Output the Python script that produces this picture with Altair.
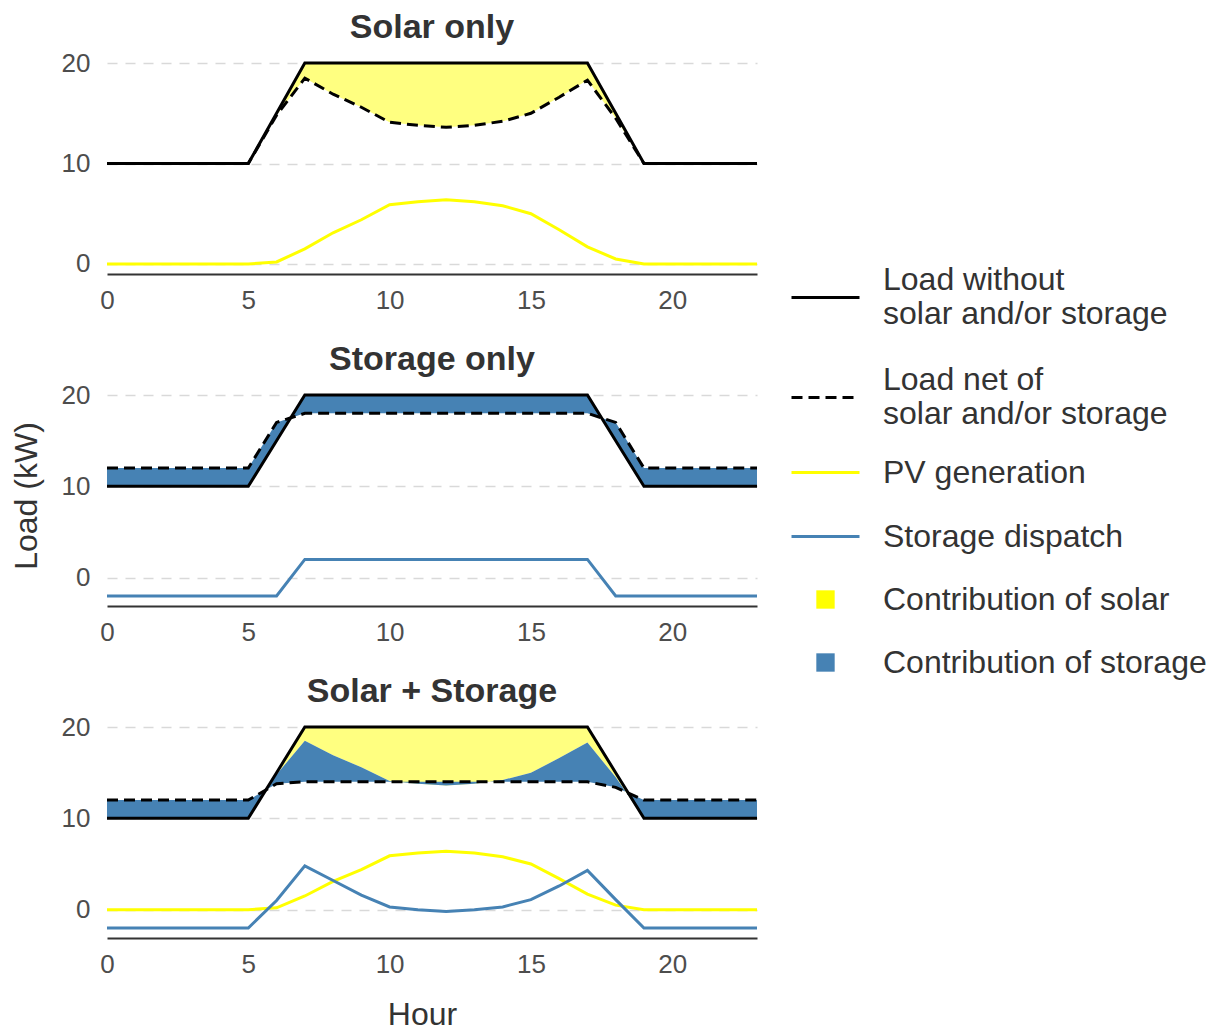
import altair as alt
import pandas as pd

# ---------------- data ----------------
hours = list(range(24))
load = [10, 10, 10, 10, 10, 10, 15, 20, 20, 20, 20, 20, 20, 20, 20, 20, 20, 20, 15, 10, 10, 10, 10, 10]
pv_generation = [0, 0, 0, 0, 0, 0, 0.2, 1.5, 3.1, 4.4, 5.9, 6.2, 6.4, 6.2, 5.8, 5.0, 3.4, 1.7, 0.5, 0, 0, 0, 0, 0]
net_solar_only = [10, 10, 10, 10, 10, 10, 14.8, 18.5, 16.9, 15.6, 14.1, 13.8, 13.6, 13.8, 14.2, 15.0, 16.6, 18.3, 14.5, 10, 10, 10, 10, 10]
storage_only_dispatch = [-2, -2, -2, -2, -2, -2, -2, 2, 2, 2, 2, 2, 2, 2, 2, 2, 2, 2, -2, -2, -2, -2, -2, -2]
net_storage_only = [12, 12, 12, 12, 12, 12, 17, 18, 18, 18, 18, 18, 18, 18, 18, 18, 18, 18, 17, 12, 12, 12, 12, 12]
storage_combined_dispatch = [-2, -2, -2, -2, -2, -2, 1.0, 4.8, 3.2, 1.6, 0.3, 0.0, -0.2, 0.0, 0.3, 1.1, 2.6, 4.3, 1.1, -2, -2, -2, -2, -2]
net_combined = [12, 12, 12, 12, 12, 12, 13.8, 14, 14, 14, 14, 14, 14, 14, 14, 14, 14, 14, 13.4, 12, 12, 12, 12, 12]

panel_titles = ["Solar only", "Storage only", "Solar + Storage"]
x_ticks = [0, 5, 10, 15, 20]
y_ticks = [0, 10, 20]

legend_labels = [
    "Load without|solar and/or storage",
    "Load net of|solar and/or storage",
    "PV generation",
    "Storage dispatch",
    "Contribution of solar",
    "Contribution of storage",
]

# ---------------- styling ----------------
BLACK = "#000000"
YELLOW = "#ffff00"
YELLOW_FILL = "#ffff80"
BLUE = "#4682b4"
LINE_SYM = "M-1,0H1"
SQUARE_SYM = "M-0.27,-0.27H0.27V0.27H-0.27Z"
# legend symbol shapes (a trailing move-to only sets each entry's spacing)
legend_shapes = [
    LINE_SYM + "M0,1.51",
    LINE_SYM,
    LINE_SYM + "M0,0.45",
    LINE_SYM + "M0,0.42",
    SQUARE_SYM + "M0,0.42",
    SQUARE_SYM,
]
DASH = [11, 6]

df = pd.DataFrame({
    "hour": hours,
    "load": load,
    "pv": pv_generation,
    "net_solar": net_solar_only,
    "st_only": storage_only_dispatch,
    "net_storage": net_storage_only,
    "st_comb": storage_combined_dispatch,
    "net_comb": net_combined,
})


def xenc(show_title):
    return alt.X(
        "hour:Q",
        scale=alt.Scale(domain=[0, 23], nice=False, zero=False),
        axis=alt.Axis(values=x_ticks, title="Hour" if show_title else None, grid=False,
                      titleX=315, labelFlush=False),
    )


def yenc(field, dom, show_title):
    return alt.Y(
        f"{field}:Q",
        scale=alt.Scale(domain=dom, nice=False, zero=False),
        axis=alt.Axis(values=y_ticks, title="Load (kW)" if show_title else None, domain=False),
    )


def panel(idx, dom, areas, extra_lines, y_title=False, x_title=False):
    base = alt.Chart(df)
    layers = []
    for top, bottom, color in areas:
        layers.append(
            base.mark_area(color=color, opacity=1).encode(
                x=xenc(x_title), y=yenc(top, dom, y_title), y2=alt.Y2(f"{bottom}:Q")
            )
        )
    layers.append(
        base.mark_line(color=BLACK, strokeWidth=3).encode(
            x=xenc(x_title), y=yenc("load", dom, y_title)
        )
    )
    net_field = {0: "net_solar", 1: "net_storage", 2: "net_comb"}[idx]
    layers.append(
        base.mark_line(color=BLACK, strokeWidth=3, strokeDash=DASH).encode(
            x=xenc(x_title), y=yenc(net_field, dom, y_title)
        )
    )
    for field, color in extra_lines:
        layers.append(
            base.mark_line(color=color, strokeWidth=3).encode(
                x=xenc(x_title), y=yenc(field, dom, y_title)
            )
        )
    return layers


leg = alt.Legend(
    title=None,
    orient="none",
    legendX=683,
    legendY=209,
    labelExpr="split(datum.label, '|')",
    labelBaseline={"expr": "indexof(datum.label, '|') >= 0 ? 'line-bottom' : 'middle'"},
    labelFontSize=32,
    labelColor="#333333",
    labelLimit=600,
    labelOffset=22,
    symbolSize=4624,
    symbolStrokeWidth=3,
    symbolOpacity=1,
    rowPadding=7,
    padding=0,
)

legend_df = pd.DataFrame({"series": legend_labels})
legend_layer = (
    alt.Chart(legend_df)
    .transform_filter("false")
    .mark_point(opacity=1)
    .encode(
        fill=alt.Fill("series:N", sort=legend_labels,
                      scale=alt.Scale(domain=legend_labels,
                                      range=["transparent", "transparent", "transparent", "transparent", YELLOW, BLUE]),
                      legend=leg),
        stroke=alt.Stroke("series:N", sort=legend_labels,
                          scale=alt.Scale(domain=legend_labels,
                                          range=[BLACK, BLACK, YELLOW, BLUE, "transparent", "transparent"]),
                          legend=leg),
        shape=alt.Shape("series:N", sort=legend_labels,
                        scale=alt.Scale(domain=legend_labels, range=legend_shapes),
                        legend=leg),
        strokeDash=alt.StrokeDash("series:N", sort=legend_labels,
                                  scale=alt.Scale(domain=legend_labels,
                                                  range=[[1, 0], DASH, [1, 0], [1, 0], [1, 0], [1, 0]]),
                                  legend=leg),
    )
)

W, H = 650, 221

p1 = alt.layer(
    *panel(0, [-1, 21], [("load", "net_solar", YELLOW_FILL)], [("pv", YELLOW)])
).properties(width=W, height=H, title=panel_titles[0])

p2 = alt.layer(
    *panel(1, [-3.1, 21.1], [("load", "net_storage", BLUE)], [("st_only", BLUE)], y_title=True),
    legend_layer,
).properties(width=W, height=H, title=panel_titles[1])

p3 = alt.layer(
    *panel(2, [-3.1, 21.1],
           [("load", "net_solar", YELLOW_FILL), ("net_solar", "net_comb", BLUE)],
           [("pv", YELLOW), ("st_comb", BLUE)], x_title=True)
).properties(width=W, height=H, title=panel_titles[2])

chart = (
    alt.vconcat(p1, p2, p3, spacing=30)
    .properties(padding={"left": 2, "top": 3, "right": 0, "bottom": 0})
    .configure(font="Liberation Sans")
    .configure_view(stroke=None)
    .configure_axis(
        labelFontSize=26,
        labelColor="#4d4d4d",
        titleFontSize=32,
        titleColor="#333333",
        titleFontWeight="normal",
        gridColor="#d9d9d9",
        gridDash=[10, 8],
        gridWidth=1.5,
        domainColor="#333333",
        domainWidth=2,
        ticks=False,
        tickSize=0,
    )
    .configure_axisX(labelPadding=13, titlePadding=22)
    .configure_axisY(labelPadding=17, titlePadding=18)
    .configure_title(
        fontSize=34,
        fontWeight="bold",
        color="#333333",
        anchor="middle",
        frame="group",
        baseline="alphabetic",
        offset=5,
    )
)

chart.save("out.html", embed_options={"renderer": "svg", "actions": False})
